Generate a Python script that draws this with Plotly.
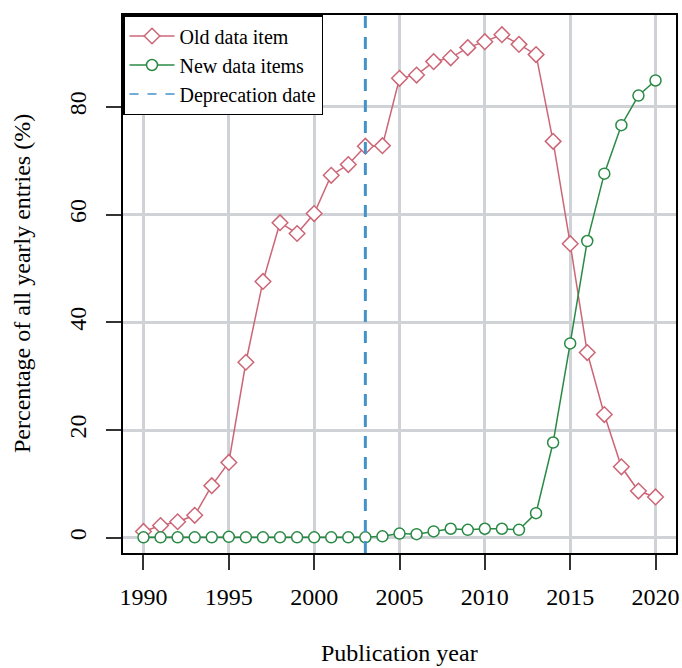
import plotly.graph_objects as go

years = list(range(1990, 2021))
old_item = [1.2, 2.3, 3.0, 4.2, 9.7, 14.0, 32.6, 47.6, 58.5, 56.5, 60.2,
            67.3, 69.3, 72.7, 72.8, 85.3, 85.9, 88.4, 89.1, 91.0, 92.1,
            93.4, 91.6, 89.7, 73.6, 54.6, 34.4, 22.9, 13.2, 8.7, 7.6]
new_items = [0.1, 0.1, 0.1, 0.1, 0.1, 0.2, 0.1, 0.1, 0.1, 0.1, 0.1,
             0.1, 0.1, 0.1, 0.3, 0.8, 0.7, 1.2, 1.7, 1.5, 1.7,
             1.7, 1.5, 4.6, 17.7, 36.1, 55.1, 67.6, 76.6, 82.1, 84.9]
deprecation_year = 2003
x_ticks = [1990, 1995, 2000, 2005, 2010, 2015, 2020]
y_ticks = [0, 20, 40, 60, 80]

PINK = "#CC6677"
GREEN = "#2A8A45"
BLUE = "#4393C9"
FONT = "Liberation Serif"

W, H = 682, 668
ML, MR, MT, MB = 123, 6, 15, 115
plot_w = W - ML - MR
plot_h = H - MT - MB

fig = go.Figure()
fig.add_trace(go.Scatter(
    x=years, y=old_item, name="Old data item", mode="lines+markers",
    line=dict(color=PINK, width=1.5),
    marker=dict(symbol="diamond", size=12, color="white",
                line=dict(color=PINK, width=1.5)),
))
fig.add_trace(go.Scatter(
    x=years, y=new_items, name="New data items", mode="lines+markers",
    line=dict(color=GREEN, width=1.5),
    marker=dict(symbol="circle", size=11, color="white",
                line=dict(color=GREEN, width=1.5)),
))
# legend entry for the deprecation line
fig.add_trace(go.Scatter(
    x=[None], y=[None], name="Deprecation date", mode="lines",
    line=dict(color=BLUE, width=1.5, dash="dash"),
))
fig.add_shape(type="line", x0=deprecation_year, x1=deprecation_year,
              y0=0, y1=1, xref="x", yref="paper",
              line=dict(color=BLUE, width=3, dash="12px,9px"), layer="above")

fig.update_layout(
    width=W, height=H,
    margin=dict(l=ML, r=MR, t=MT, b=MB),
    paper_bgcolor="white", plot_bgcolor="white",
    font=dict(family=FONT, size=24, color="black"),
    showlegend=True,
    legend=dict(x=0, y=1, xanchor="left", yanchor="top",
                bgcolor="white", bordercolor="black", borderwidth=1.5,
                font=dict(family=FONT, size=20), itemwidth=45,
                tracegroupgap=0),
)
fig.add_annotation(text="Publication year",
                   x=0.5, y=-(653 - (H - MB)) / plot_h, xref="paper", yref="paper",
                   showarrow=False, font=dict(family=FONT, size=24),
                   xanchor="center", yanchor="middle")
fig.add_annotation(text="Percentage of all yearly entries (%)",
                   x=-(ML - 22) / plot_w, y=0.5, xref="paper", yref="paper",
                   showarrow=False, textangle=-90, font=dict(family=FONT, size=24),
                   xanchor="center", yanchor="middle")

fig.update_xaxes(
    range=[1988.8, 2021.2], tickvals=x_ticks, ticktext=[str(t) for t in x_ticks],
    showgrid=True, gridcolor="#cfd2d6", gridwidth=2.5,
    showline=True, mirror=True, linecolor="black", linewidth=1.5,
    ticks="outside", ticklen=15, tickcolor="#333", tickwidth=1.5,
    ticklabelstandoff=6, zeroline=False, automargin=False,
    tickfont=dict(family=FONT, size=24),
)
fig.update_yaxes(
    range=[-2.8, 97.05], tickvals=y_ticks, ticktext=[str(t) for t in y_ticks],
    tickangle=-90,
    showgrid=True, gridcolor="#cfd2d6", gridwidth=2.5,
    showline=True, mirror=True, linecolor="black", linewidth=1.5,
    ticks="outside", ticklen=15, tickcolor="#333", tickwidth=1.5,
    ticklabelstandoff=11, zeroline=False, automargin=False,
    tickfont=dict(family=FONT, size=24),
)
fig.write_html("out.html", config={"displayModeBar": False},
               post_script="document.body.style.margin='0';document.body.style.overflow='hidden';")
